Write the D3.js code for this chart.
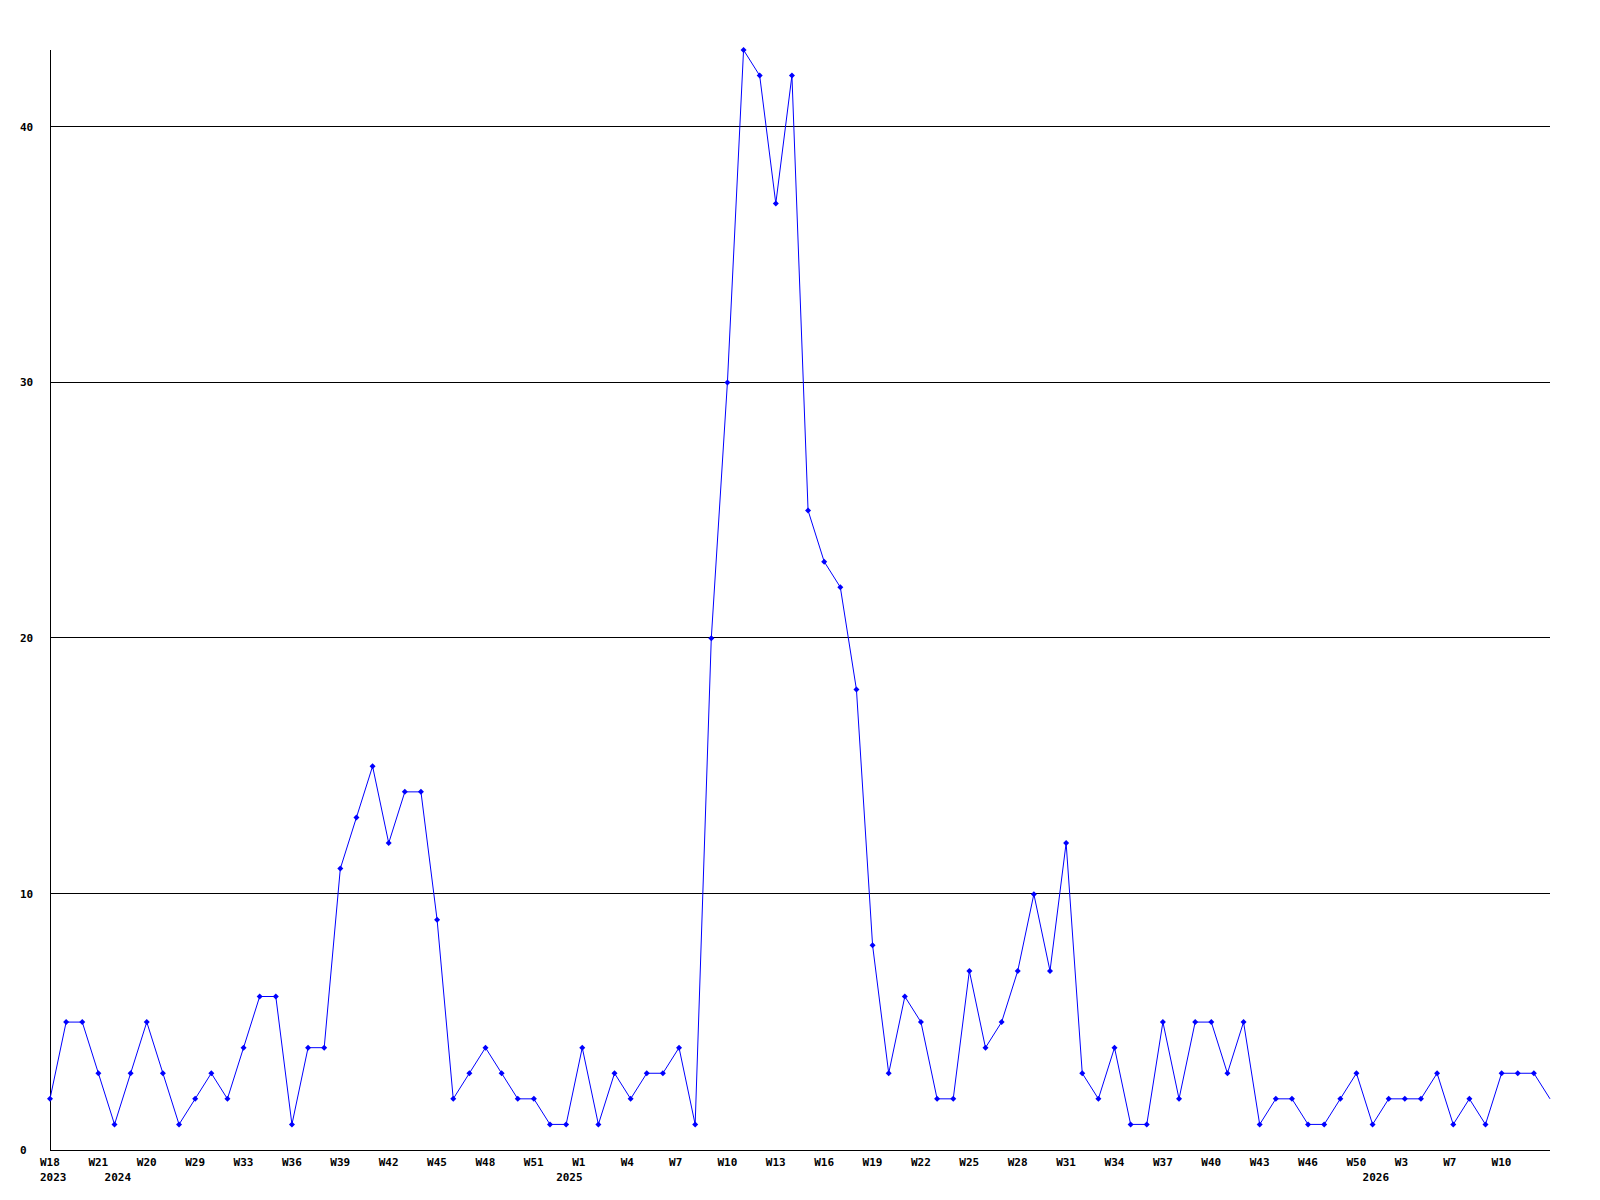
<!DOCTYPE html>
<html>
<head>
<meta charset="utf-8">
<script src="https://cdn.jsdelivr.net/npm/d3@7"></script>
<style>
  body { margin: 0; background: #fff; }
  text { font-family: "DejaVu Sans Mono", monospace; font-weight: bold; font-size: 11px; fill: #000; }
</style>
</head>
<body>
<div id="vis-container"></div>
<script>
const width = 1600;
const height = 1200;
const margin = { top: 50, right: 50, bottom: 50, left: 50 };

// weekly counts, one per point
const counts = [2, 5, 5, 3, 1, 3, 5, 3, 1, 2, 3, 2, 4, 6, 6, 1, 4, 4, 11, 13,
                15, 12, 14, 14, 9, 2, 3, 4, 3, 2, 2, 1, 1, 4, 1, 3, 2, 3, 3, 4,
                1, 20, 30, 43, 42, 37, 42, 25, 23, 22, 18, 8, 3, 6, 5, 2, 2, 7, 4, 5,
                7, 10, 7, 12, 3, 2, 4, 1, 1, 5, 2, 5, 5, 3, 5, 1, 2, 2, 1, 1,
                2, 3, 1, 2, 2, 2, 3, 1, 2, 1, 3, 3, 3, 2];

// week labels, every third point
const weekLabels = ["W18", "W21", "W20", "W29", "W33", "W36", "W39", "W42", "W45", "W48",
                    "W51", "W1", "W4", "W7", "W10", "W13", "W16", "W19", "W22", "W25",
                    "W28", "W31", "W34", "W37", "W40", "W43", "W46", "W50", "W3", "W7", "W10"];

// year labels and the point they sit under
const yearLabels = ["2023", "2024", "2025", "2026"];
const yearIndex = [0, 4, 32, 82];

const yTicks = [0, 10, 20, 30, 40];
const yMax = 43;

const svg = d3.select("#vis-container")
    .append("svg")
    .attr("width", width)
    .attr("height", height);

const x = d3.scaleLinear()
    .domain([0, counts.length - 1])
    .range([margin.left, width - margin.right]);

const y = d3.scaleLinear()
    .domain([0, yMax])
    .range([height - margin.bottom, margin.top]);

// grid lines
svg.append("g")
    .selectAll("line")
    .data(yTicks.filter(d => d > 0))
    .enter()
    .append("line")
        .attr("x1", x(0))
        .attr("x2", x(counts.length - 1))
        .attr("y1", d => Math.round(y(d)) - 0.5)
        .attr("y2", d => Math.round(y(d)) - 0.5)
        .attr("stroke", "#000")
        .attr("shape-rendering", "crispEdges");

// y labels
svg.append("g")
    .selectAll("text")
    .data(yTicks)
    .enter()
    .append("text")
        .attr("x", 20)
        .attr("y", d => y(d))
        .attr("dy", "0.35em")
        .text(d => d);

// axes
svg.append("line")
    .attr("x1", x(0) + 0.5).attr("x2", x(0) + 0.5)
    .attr("y1", y(yMax)).attr("y2", y(0))
    .attr("stroke", "#000")
    .attr("shape-rendering", "crispEdges");

svg.append("line")
    .attr("x1", x(0)).attr("x2", x(counts.length - 1))
    .attr("y1", y(0) + 0.5).attr("y2", y(0) + 0.5)
    .attr("stroke", "#000")
    .attr("shape-rendering", "crispEdges");

// x labels
svg.append("g")
    .selectAll("text")
    .data(weekLabels)
    .enter()
    .append("text")
        .attr("x", (d, i) => x(i * 3) - 10)
        .attr("y", y(0) + 16)
        .text(d => d);

svg.append("g")
    .selectAll("text")
    .data(yearLabels)
    .enter()
    .append("text")
        .attr("x", (d, i) => x(yearIndex[i]) - 10)
        .attr("y", y(0) + 31)
        .text(d => d);

// line
const line = d3.line()
    .x((d, i) => x(i))
    .y(d => y(d));

svg.append("path")
    .datum(counts)
    .attr("d", line)
    .attr("fill", "none")
    .attr("stroke", "#0000ff")
    .attr("stroke-width", 1);

// markers (last point has none)
svg.append("g")
    .selectAll("path")
    .data(counts.slice(0, -1))
    .enter()
    .append("path")
        .attr("d", d3.symbol(d3.symbolSquare, 18))
        .attr("transform", (d, i) => `translate(${x(i)},${y(d)}) rotate(45)`)
        .attr("fill", "#0000ff");
</script>
</body>
</html>
